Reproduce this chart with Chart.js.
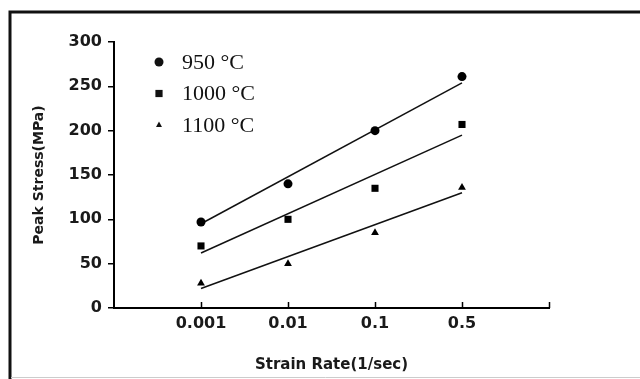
<!DOCTYPE html>
<html>
<head>
<meta charset="utf-8">
<script src="https://cdn.jsdelivr.net/npm/chart.js@4"></script>
<style>
  html, body { margin: 0; padding: 0; background: #fff; }
</style>
</head>
<body>
<canvas id="myChart1" width="640" height="379"></canvas>
<script>
// strain rates (1/sec), placed at 1..4 on the x scale
const rates = ["0.001", "0.01", "0.1", "0.5"];
const temps = ["950 °C", "1000 °C", "1100 °C"];

// peak stress (MPa)
const stress950 = [97, 140, 200, 261];
const stress1000 = [70, 100, 135, 207];
const stress1100 = [28, 50, 85, 136];

// trend line end values at the first and last strain rate
const fit950 = [95, 254];
const fit1000 = [62, 195];
const fit1100 = [22, 130];

const markers = ["circle", "rect", "triangle"];
const markerSize = [4.5, 5, 4.5];

const toPoints = arr => arr.map((v, i) => ({x: i + 1, y: v}));
const toLine = arr => [{x: 1, y: arr[0]}, {x: rates.length, y: arr[1]}];

function drawMarker(ctx, style, x, y, r) {
  ctx.beginPath();
  if (style == "circle") {
    ctx.arc(x, y, r, 0, Math.PI * 2);
  } else if (style == "rect") {
    ctx.rect(x - r * 0.8, y - r * 0.8, r * 1.6, r * 1.6);
  } else {
    ctx.moveTo(x, y - r);
    ctx.lineTo(x + r * 0.85, y + r * 0.6);
    ctx.lineTo(x - r * 0.85, y + r * 0.6);
    ctx.closePath();
  }
  ctx.fill();
}

const frame = {
  id: "frame",
  afterDraw(chart) {
    const ctx = chart.ctx;
    const xs = chart.scales.x;
    ctx.save();

    // x tick marks point up into the plot
    ctx.strokeStyle = "#000";
    ctx.lineWidth = 1.5;
    for (let i = 1; i <= rates.length + 1; i++) {
      const px = Math.round(xs.getPixelForValue(i)) + 0.5;
      ctx.beginPath();
      ctx.moveTo(px, xs.top);
      ctx.lineTo(px, xs.top - 6);
      ctx.stroke();
    }

    // legend in the upper left of the plot
    ctx.fillStyle = "#111";
    ctx.font = "22px 'Liberation Serif', serif";
    ctx.textBaseline = "middle";
    temps.forEach((t, i) => {
      const y = 62 + i * 31.5;
      drawMarker(ctx, markers[i], 159, y, i == 2 ? 3.5 : 4.5);
      ctx.fillText(t, 182, y + 1);
    });

    // outer frame
    ctx.strokeStyle = "#111";
    ctx.lineWidth = 3;
    ctx.beginPath();
    ctx.moveTo(640, 12);
    ctx.lineTo(10, 12);
    ctx.lineTo(10, 379);
    ctx.stroke();
    ctx.strokeStyle = "#ccc";
    ctx.lineWidth = 1;
    ctx.beginPath();
    ctx.moveTo(11, 377.5);
    ctx.lineTo(640, 377.5);
    ctx.stroke();
    ctx.restore();
  }
};

const pointSet = (data, i) => ({
  type: "scatter",
  label: temps[i],
  data: toPoints(data),
  pointStyle: markers[i],
  pointRadius: markerSize[i],
  backgroundColor: "#000",
  borderColor: "#000",
  borderWidth: 0,
  order: 0
});

const lineSet = data => ({
  type: "line",
  data: toLine(data),
  borderColor: "#111",
  borderWidth: 1.5,
  pointRadius: 0,
  fill: false,
  order: 1
});

const tickFont = {family: "'DejaVu Sans', sans-serif", size: 16, weight: "bold"};

new Chart(document.getElementById("myChart1"), {
  data: {
    datasets: [
      pointSet(stress950, 0),
      pointSet(stress1000, 1),
      pointSet(stress1100, 2),
      lineSet(fit950),
      lineSet(fit1000),
      lineSet(fit1100)
    ]
  },
  options: {
    responsive: false,
    animation: false,
    layout: {padding: {top: 42, right: 91, left: 0, bottom: 0}},
    plugins: {legend: {display: false}, tooltip: {enabled: false}},
    scales: {
      x: {
        type: "linear",
        min: 0,
        max: rates.length + 1,
        afterFit: s => { s.height = 71; },
        border: {color: "#000", width: 2},
        grid: {display: false, drawTicks: false},
        ticks: {
          stepSize: 1,
          padding: 6,
          autoSkip: false,
          maxRotation: 0,
          color: "#1a1a1a",
          font: tickFont,
          callback: v => rates[v - 1] || ""
        },
        title: {
          display: true,
          text: "Strain Rate(1/sec)",
          color: "#1a1a1a",
          font: {family: "'DejaVu Sans', sans-serif", size: 15, weight: "bold"},
          padding: {top: 0, bottom: 5}
        }
      },
      y: {
        min: 0,
        max: 300,
        afterFit: s => { s.width = 114; },
        border: {color: "#000", width: 2},
        grid: {drawOnChartArea: false, tickLength: 6, color: "#000", lineWidth: 1.5},
        ticks: {
          stepSize: 50,
          padding: 6,
          color: "#1a1a1a",
          font: tickFont
        },
        title: {
          display: true,
          text: "Peak Stress(MPa)",
          color: "#1a1a1a",
          font: {family: "'DejaVu Sans', sans-serif", size: 14, weight: "bold"},
          padding: {top: 31, bottom: 0}
        }
      }
    }
  },
  plugins: [frame]
});
</script>
</body>
</html>
